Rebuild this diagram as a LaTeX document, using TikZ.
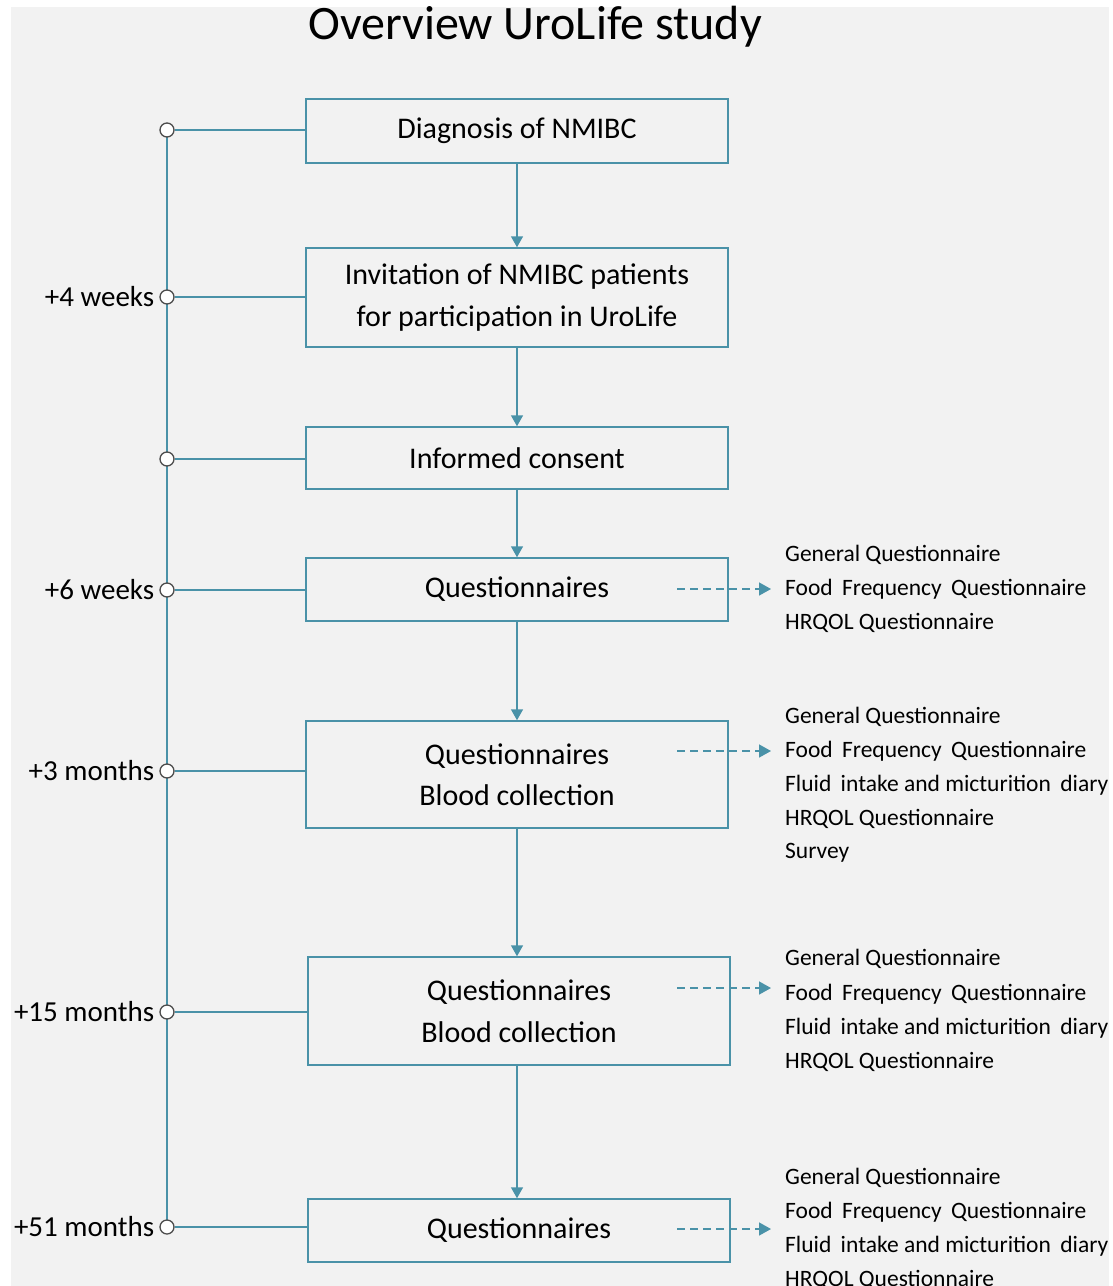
\documentclass[tikz,border=0pt]{standalone}
\usepackage{fontspec}
\setmainfont{Carlito}
\usetikzlibrary{calc, arrows.meta}

\definecolor{uroteal}{RGB}{74,146,168}
\definecolor{urogrey}{RGB}{242,242,242}

\begin{document}
\begin{tikzpicture}[x=1pt, y=-1pt]
    \tikzstyle{stage} = [rectangle, draw=uroteal, line width=1.5pt, minimum width=422pt,
        align=center, inner sep=0pt, font=\fontsize{30}{41.5}\selectfont]
    \tikzstyle{tick} = [circle, draw=black!70, fill=white, line width=1.3pt,
        minimum size=14pt, inner sep=0pt]
    \tikzstyle{when} = [left, inner xsep=5pt, inner ysep=1pt, font=\fontsize{29}{32}\selectfont]
    \tikzstyle{item} = [anchor=west, inner xsep=14pt, inner ysep=0pt,
        font=\fontsize{23.5}{26}\selectfont]
    \tikzstyle{link} = [draw=uroteal, line width=1.5pt]
    \tikzstyle{flow} = [link, -{Triangle[length=11pt, width=12pt]}]
    \tikzstyle{measure} = [link, dash pattern=on 8pt off 5pt, -{Triangle[length=12pt, width=13pt]}]

    % Background -------------------------------------
    \fill[urogrey] (11, 7) rectangle (1109, 1286);
    \useasboundingbox (0, 0) rectangle (1113, 1286);
    \clip (0, 0) rectangle (1113, 1286);

    \node (title) at (535, 27) {\fontsize{48}{52}\selectfont Overview UroLife study};

    % Stages -----------------------------------------
    \node (diag) at (517, 131) [stage, minimum height=64pt] {Diagnosis of NMIBC};
    \node (invite) at (517, 297.5) [stage, minimum height=99pt]
        {Invitation of NMIBC patients\\for participation in UroLife};
    \node (consent) at (517, 458) [stage, minimum height=62pt] {Informed consent};
    \node (quest1) at (517, 589.5) [stage, minimum height=63pt] {Questionnaires};
    \node (quest2) at (517, 774.5) [stage, minimum height=107pt]
        {Questionnaires\\Blood collection};
    \node (quest3) at (519, 1011) [stage, minimum height=108pt]
        {Questionnaires\\Blood collection};
    \node (quest4) at (519, 1230.5) [stage, minimum height=63pt] {Questionnaires};

    \draw [flow] (diag) -- (invite);
    \draw [flow] (invite) -- (consent);
    \draw [flow] (consent) -- (quest1);
    \draw [flow] (quest1) -- (quest2);
    \draw [flow] (quest2.south) -- (quest2.south |- quest3.north);
    \draw [flow] (quest3.south -| quest2.south) -- (quest2.south |- quest4.north);

    % Timeline ---------------------------------------
    \coordinate (c1) at (167, 130);
    \coordinate (c7) at (167, 1227);
    \draw [link, line width=2.2pt] (c1) -- (c7);

    \node (t1) at (c1) [tick] {};
    \node (t2) at (167, 297) [tick] {};
    \node (t3) at (167, 459) [tick] {};
    \node (t4) at (167, 590) [tick] {};
    \node (t5) at (167, 771) [tick] {};
    \node (t6) at (167, 1012) [tick] {};
    \node (t7) at (c7) [tick] {};

    \draw [link] (t1) -- (t1 -| diag.west);
    \draw [link] (t2) -- (t2 -| invite.west);
    \draw [link] (t3) -- (t3 -| consent.west);
    \draw [link] (t4) -- (t4 -| quest1.west);
    \draw [link] (t5) -- (t5 -| quest2.west);
    \draw [link] (t6) -- (t6 -| quest3.west);
    \draw [link] (t7) -- (t7 -| quest4.west);

    \node (w2) at (t2.west) [when] {+4 weeks};
    \node (w4) at (t4.west) [when] {+6 weeks};
    \node (w5) at (t5.west) [when] {+3 months};
    \node (w6) at (t6.west) [when] {+15 months};
    \node (w7) at (t7.west) [when] {+51 months};

    % Measurements -----------------------------------
    \node (a1) at (771, 555) [item] {General Questionnaire};
    \node (a2) at ($(a1.west) + (0, 34)$) [item] {Food\hspace{4pt} Frequency\hspace{4pt} Questionnaire};
    \node (a3) at ($(a2.west) + (0, 34)$) [item] {HRQOL Questionnaire};

    \node (b1) at (771, 717) [item] {General Questionnaire};
    \node (b2) at ($(b1.west) + (0, 34)$) [item] {Food\hspace{4pt} Frequency\hspace{4pt} Questionnaire};
    \node (b3) at ($(b2.west) + (0, 34)$) [item] {Fluid\hspace{4pt} intake and micturition\hspace{4pt} diary};
    \node (b4) at ($(b3.west) + (0, 34)$) [item] {HRQOL Questionnaire};
    \node (b5) at ($(b4.west) + (0, 34)$) [item] {Survey};

    \node (c1) at (771, 959) [item] {General Questionnaire};
    \node (c2) at ($(c1.west) + (0, 35)$) [item] {Food\hspace{4pt} Frequency\hspace{4pt} Questionnaire};
    \node (c3) at ($(c2.west) + (0, 34)$) [item] {Fluid\hspace{4pt} intake and micturition\hspace{4pt} diary};
    \node (c4) at ($(c3.west) + (0, 34)$) [item] {HRQOL Questionnaire};

    \node (d1) at (771, 1178) [item] {General Questionnaire};
    \node (d2) at ($(d1.west) + (0, 34)$) [item] {Food\hspace{4pt} Frequency\hspace{4pt} Questionnaire};
    \node (d3) at ($(d2.west) + (0, 34)$) [item] {Fluid\hspace{4pt} intake and micturition\hspace{4pt} diary};
    \node (d4) at ($(d3.west) + (0, 34)$) [item] {HRQOL Questionnaire};

    % dashed pointers stay level
    \coordinate (s1) at (677, 589);
    \coordinate (s2) at (677, 751);
    \coordinate (s3) at (677, 988);
    \coordinate (s4) at (677, 1229);
    \draw [measure] (s1) -- (s1 -| a2.west);
    \draw [measure] (s2) -- (s2 -| b2.west);
    \draw [measure] (s3) -- (s3 -| c2.west);
    \draw [measure] (s4) -- (s4 -| d2.west);
\end{tikzpicture}
\end{document}
